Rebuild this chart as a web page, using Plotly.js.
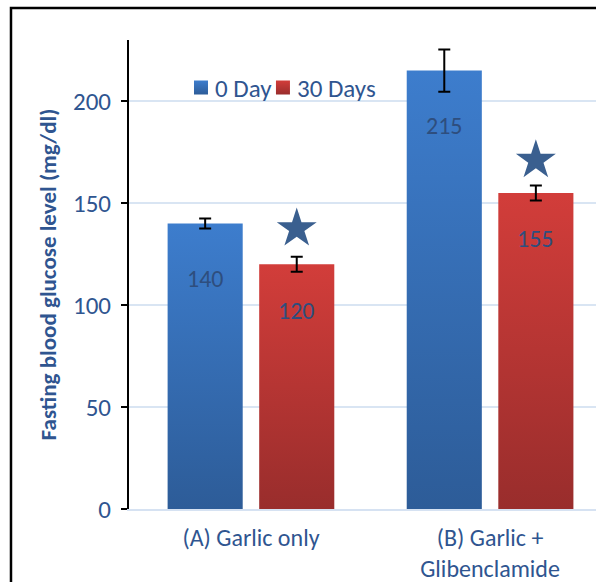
<!DOCTYPE html>
<html>
<head>
<meta charset="utf-8">
<script src="https://cdn.plot.ly/plotly-3.0.1.min.js"></script>
<style>
html,body{margin:0;padding:0;background:#fff;}
#chart{width:596px;height:582px;}
</style>
</head>
<body>
<div id="chart"></div>
<script>
// ---- data ----
var categories = ["(A) Garlic only", "(B) Garlic +<br>Glibenclamide"];
var seriesNames = ["0 Day", "30 Days"];
var day0Values = [140, 215];
var day30Values = [120, 155];
var day0Errors = [2.5, 10.4];
var day30Errors = [3.7, 3.7];
var sigMarkerY = [137.5, 171];   // star markers above 30-day bars
var yTicks = [0, 50, 100, 150, 200];

// ---- style constants ----
var FONT = "Carlito, Lato, 'Open Sans', sans-serif";
var TXT = "#2f5590";
var BARGAP = 0.234, GROUPGAP = 0.18;
var slot = (1 - BARGAP) / 2;
var xIdx = categories.map(function(_, i){ return i; });

var errStyle = {type:'data', visible:true, color:'#000', thickness:2, width:6};

var traces = [
  {type:'bar', name:seriesNames[0], x:xIdx, y:day0Values, legend:'legend',
   marker:{color:'#3569b3'},
   error_y:Object.assign({array:day0Errors}, errStyle), hoverinfo:'none'},
  {type:'bar', name:seriesNames[1], x:xIdx, y:day30Values, legend:'legend2',
   marker:{color:'#b83533'},
   error_y:Object.assign({array:day30Errors}, errStyle), hoverinfo:'none'},
  {type:'scatter', mode:'markers', showlegend:false,
   x:xIdx.map(function(i){ return i + slot/2; }), y:sigMarkerY,
   marker:{symbol:'star', size:30, color:'#3a5f8f'}, hoverinfo:'none'}
];

var annotations = [];
day0Values.forEach(function(v, i){
  annotations.push({x:i - slot/2, y:v, yshift:-55, text:String(v), showarrow:false,
    font:{family:FONT, size:24, color:'#2e4e7e'}});
});
day30Values.forEach(function(v, i){
  annotations.push({x:i + slot/2, y:v, yshift:-46, text:String(v), showarrow:false,
    font:{family:FONT, size:24, color:'#2e4e7e'}});
});

var legendBase = {orientation:'h', y:0.898, xanchor:'left', yanchor:'middle',
    font:{family:FONT, size:25, color:TXT}, itemwidth:30, bgcolor:'rgba(0,0,0,0)'};

var layout = {
  width:596, height:582,
  margin:{l:129, r:0, t:40, b:73, pad:0},
  paper_bgcolor:'#fff', plot_bgcolor:'#fff',
  font:{family:FONT, color:TXT, size:24},
  barmode:'group', bargap:BARGAP, bargroupgap:GROUPGAP,
  showlegend:true,
  legend:Object.assign({x:0.0985}, legendBase),
  legend2:Object.assign({x:0.274}, legendBase),
  xaxis:{range:[-0.51, 1.443], tickvals:xIdx, ticktext:categories,
    showgrid:false, zeroline:false, showline:true, linecolor:'#d6e2f2', linewidth:2,
    ticks:'', ticklabelstandoff:6, tickfont:{family:FONT, size:24, color:TXT},
    fixedrange:true},
  yaxis:{range:[0, 230], tickvals:yTicks, showgrid:true, gridcolor:'#d9e5f3', gridwidth:2,
    zeroline:false, showline:true, linecolor:'#000', linewidth:2,
    ticks:'outside', ticklen:6, tickwidth:2, tickcolor:'#000', ticklabelstandoff:5,
    tickfont:{family:FONT, size:25, color:TXT},
    title:{text:'<b>Fasting blood glucose level (mg/dl)</b>', standoff:10,
      font:{family:FONT, size:23, color:TXT}}, fixedrange:true},
  annotations:annotations,
  shapes:[{type:'rect', xref:'paper', yref:'paper', x0:-0.2527, x1:1.05, y0:-0.3, y1:1.0682,
    line:{color:'#000', width:2.5}, fillcolor:'rgba(0,0,0,0)', layer:'above'}]
};

Plotly.newPlot('chart', traces, layout, {displayModeBar:false, staticPlot:true}).then(function(gd){
  // apply vertical gradients to the bars (Excel-like fill)
  var svg = gd.querySelector('svg.main-svg');
  var ns = 'http://www.w3.org/2000/svg';
  var defs = document.createElementNS(ns, 'defs');
  function grad(id, top, bottom){
    var g = document.createElementNS(ns, 'linearGradient');
    g.setAttribute('id', id); g.setAttribute('x1','0'); g.setAttribute('y1','0');
    g.setAttribute('x2','0'); g.setAttribute('y2','1');
    [[0, top],[1, bottom]].forEach(function(s){
      var st = document.createElementNS(ns, 'stop');
      st.setAttribute('offset', s[0]); st.setAttribute('stop-color', s[1]);
      g.appendChild(st);
    });
    defs.appendChild(g);
  }
  grad('gBlue', '#3d7dcd', '#2d5c98');
  grad('gRed', '#d23d3a', '#992d2c');
  svg.insertBefore(defs, svg.firstChild);
  var ids = ['gBlue', 'gRed'];
  gd.querySelectorAll('.barlayer .trace').forEach(function(t, k){
    t.querySelectorAll('.point path').forEach(function(p){
      p.style.fill = 'url(#' + ids[k] + ')';
    });
  });
  // legend swatches: gradient fill, slightly larger, closer to their text
  var k = 0;
  gd.querySelectorAll('.legendpoints').forEach(function(lp){
    lp.setAttribute('transform', 'translate(6,0)');
    lp.querySelectorAll('path').forEach(function(p){
      p.setAttribute('d', 'M7,7H-7V-7H7Z');
      p.style.fill = 'url(#' + ids[Math.min(k,1)] + ')';
      p.style.stroke = 'none';
    });
    k++;
  });
});
</script>
</body>
</html>
